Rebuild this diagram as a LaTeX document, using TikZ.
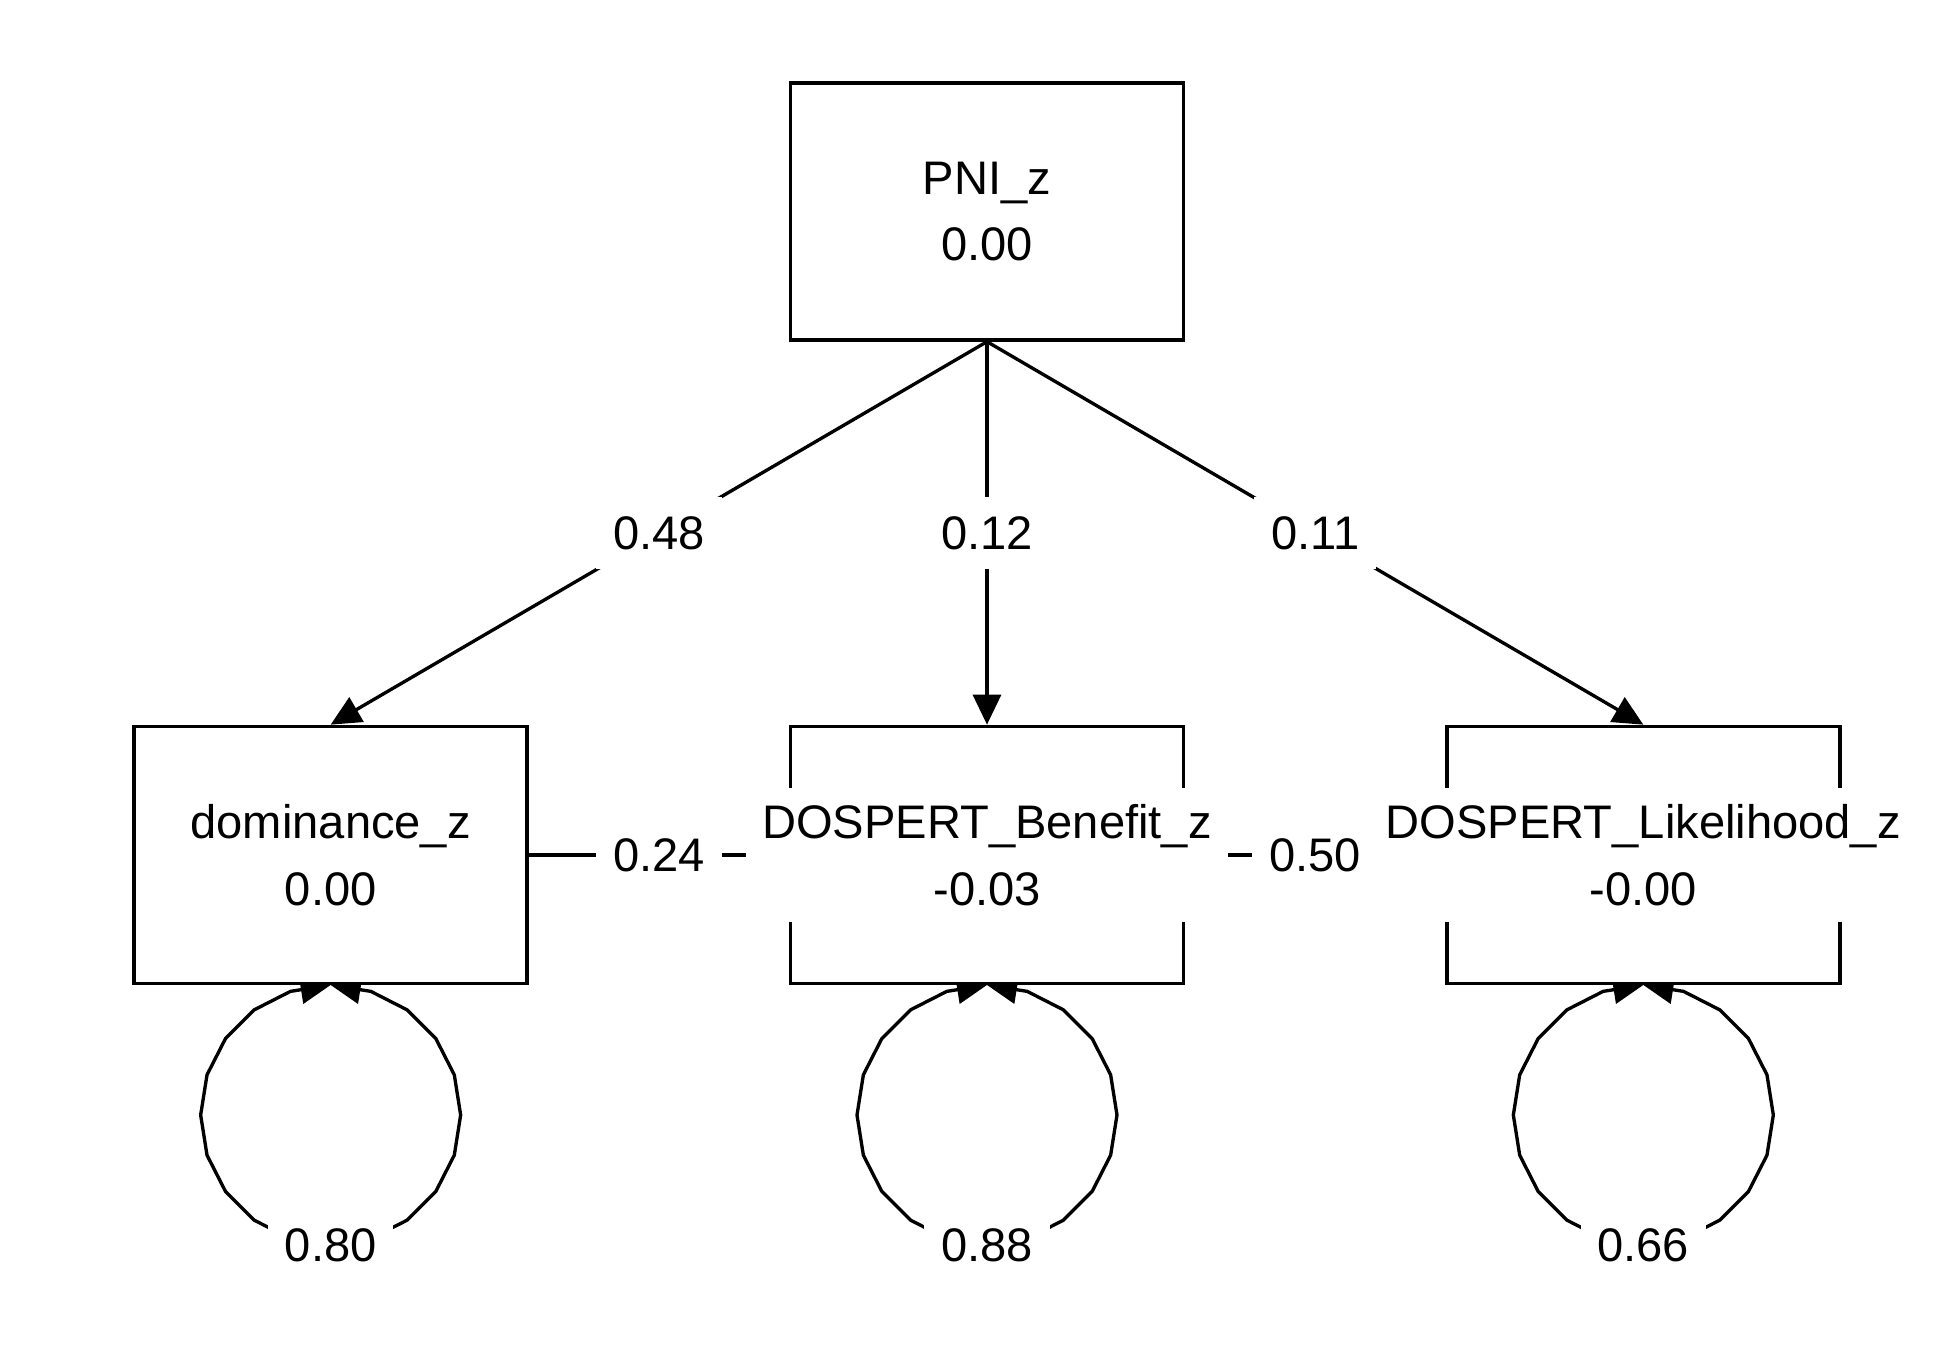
\documentclass[tikz,border=0pt]{standalone}
\usepackage{fontspec}
\setmainfont{Liberation Sans}
\usetikzlibrary{positioning,arrows.meta,backgrounds}

\begin{document}
\begin{tikzpicture}[node distance={2.60cm}, line width=0.95pt,
  font=\fontsize{13.4pt}{19pt}\selectfont,
  var/.style = {draw, rectangle, fill=white, minimum width=3.93cm, minimum height=2.57cm},
  vtext/.style = {fill=white, align=center, inner xsep=0.16cm, inner ysep=0.16cm},
  est/.style = {fill=white, inner xsep=0.17cm, inner ysep=0.19cm},
  reg/.style = {-{Triangle[length=0.3cm, width=0.28cm]}}]
\useasboundingbox (0,0) rectangle (19.5,13.5);
% Nodes
\node[var] (pni) at (9.87,11.385) {};
\node[var] (ben) [below=3.83cm of pni] {};
\node[var] (dom) [left=of ben] {};
\node[var] (lik) [right=of ben] {};
% Edges
\begin{scope}[on background layer={line width=0.95pt}]
\draw[reg] (pni.south) -- node[est] {0.48} (dom.north);
\draw[reg] (pni.south) -- node[est] {0.12} (ben.north);
\draw[reg] (pni.south) -- node[est] {0.11} (lik.north);
\draw (dom.east) -- node[est] {0.24} (ben.west);
\draw (ben.east) -- node[est] {0.50} (lik.west);
% Residual variances
\foreach \v/\val in {dom/0.80, ben/0.88, lik/0.66} {
  \begin{scope}[shift={(\v.south)}, yshift=-1.30cm]
    \draw[reg] plot[domain=270:90, samples=11] ({1.30*cos(\x)}, {1.30*sin(\x)});
    \draw[reg] plot[domain=-90:90, samples=11] ({1.30*cos(\x)}, {1.30*sin(\x)});
    \node[est] (\v R) at (0,-1.30) {\val};
  \end{scope}
}
\end{scope}
% Labels
\node[vtext] (pniT) at (pni) {PNI\_z\\0.00};
\node[vtext] (domT) at (dom) {dominance\_z\\0.00};
\node[vtext] (benT) at (ben) {DOSPERT\_Benefit\_z\\-0.03};
\node[vtext] (likT) at (lik) {DOSPERT\_Likelihood\_z\\-0.00};
\end{tikzpicture}
\end{document}
